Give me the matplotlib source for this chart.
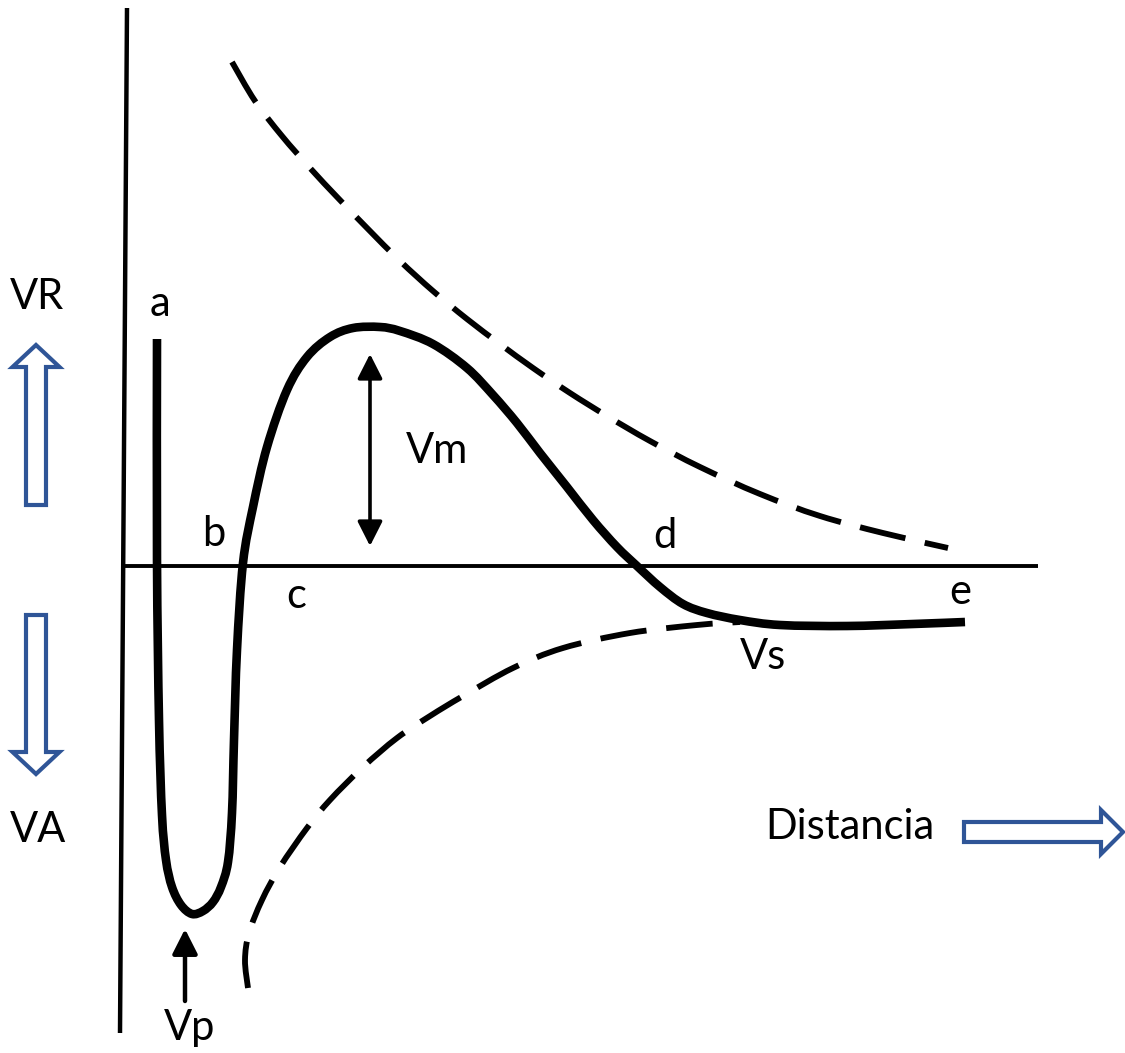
import matplotlib
matplotlib.use("Agg")
import numpy as np
import matplotlib.pyplot as plt
from matplotlib.patches import FancyArrow, PathPatch
from matplotlib.path import Path

plt.rcParams['font.family'] = ['Lato', 'DejaVu Sans']

# --- curve points (pixel units, y downwards) ---
main_x = [157, 157, 159, 162, 166, 172, 181, 192, 203, 213, 221, 228, 232, 234, 237, 243, 253,
          267, 287, 307, 330, 353, 380, 400, 433, 467, 493, 517, 540, 567, 593, 617, 637, 660,
          683, 707, 740, 780, 847, 913, 965]
main_y = [339, 560, 720, 815, 860, 887, 905, 914, 911, 902, 887, 862, 813, 740, 650, 563, 507,
          447, 390, 357, 337, 328, 327, 331, 344, 368, 395, 423, 453, 487, 520, 547, 566, 587,
          604, 613, 620, 625, 626, 624, 622]

rep_x = [232, 255, 282, 310, 338, 368, 400, 433, 467, 500, 533, 570, 607, 650, 700, 760, 820,
         883, 948]
rep_y = [62, 101, 136, 168, 198, 229, 261, 291, 319, 344, 368, 393, 416, 441, 467, 494, 516,
         533, 548]

att_x = [248, 245, 249, 262, 280, 307, 330, 363, 397, 430, 463, 513, 563, 630, 697, 740]
att_y = [988, 960, 933, 900, 867, 828, 800, 767, 738, 716, 696, 668, 648, 633, 625, 622]

# axes lines
yaxis_x = [127, 120]
yaxis_y = [8, 1033]
xaxis_x = [122, 1038]
xaxis_y = [566, 566]

# labels: (text, x, y)
labels = [("VR", 37, 297), ("VA", 38, 830), ("a", 160, 304), ("b", 214, 534),
          ("c", 296, 596), ("d", 665, 536), ("e", 960, 592), ("Vm", 437, 451),
          ("Vs", 763, 657), ("Vp", 190, 1028), ("Distancia", 850, 827)]

blue = "#2F5597"


def smooth_path(xs, ys):
    # Catmull-Rom through the read points, drawn as cubic Bezier segments
    p = np.column_stack([xs, ys]).astype(float)
    p = np.vstack([p[0], p, p[-1]])
    verts = [p[1]]
    codes = [Path.MOVETO]
    for i in range(1, len(p) - 2):
        c1 = p[i] + (p[i + 1] - p[i - 1]) / 6
        c2 = p[i + 1] - (p[i + 2] - p[i]) / 6
        verts += [c1, c2, p[i + 1]]
        codes += [Path.CURVE4] * 3
    return Path(verts, codes)


fig = plt.figure(figsize=(11.25, 10.53), dpi=100)
ax = fig.add_axes([0, 0, 1, 1])
ax.set_xlim(0, 1125)
ax.set_ylim(1053, 0)
ax.axis("off")

ax.plot(yaxis_x, yaxis_y, color="black", lw=3.2, solid_capstyle="butt")
ax.plot(xaxis_x, xaxis_y, color="black", lw=2.8, solid_capstyle="butt")

ax.add_patch(PathPatch(smooth_path(main_x, main_y), fill=False, ec="black", lw=6.2,
                       capstyle="butt", joinstyle="round"))
ax.add_patch(PathPatch(smooth_path(rep_x, rep_y), fill=False, ec="black", lw=4.2,
                       linestyle=(0, (8, 3.4)), capstyle="butt"))
ax.add_patch(PathPatch(smooth_path(att_x, att_y), fill=False, ec="black", lw=4.2,
                       linestyle=(0, (8, 3.4)), capstyle="butt"))

# Vm double arrow and Vp arrow
ax.annotate("", xy=(370, 354), xytext=(370, 546),
            arrowprops=dict(arrowstyle="<|-|>,head_length=0.75,head_width=0.38",
                            mutation_scale=20, lw=2.6, color="black",
                            shrinkA=0, shrinkB=0))
ax.annotate("", xy=(185, 929), xytext=(185, 1001),
            arrowprops=dict(arrowstyle="-|>,head_length=0.75,head_width=0.38",
                            mutation_scale=20, lw=3.2, color="black",
                            shrinkA=0, shrinkB=0))

# hollow blue arrows
ax.add_patch(FancyArrow(36, 505, 0, -160, width=20, head_width=47, head_length=22,
                        length_includes_head=True, fc="white", ec=blue, lw=3))
ax.add_patch(FancyArrow(36, 615, 0, 159, width=20, head_width=47, head_length=22,
                        length_includes_head=True, fc="white", ec=blue, lw=3))
ax.add_patch(FancyArrow(964, 832, 159, 0, width=20, head_width=44, head_length=22,
                        length_includes_head=True, fc="white", ec=blue, lw=3))

for txt, x, y in labels:
    ax.text(x, y, txt, fontsize=30, ha="center", va="center", color="black")

fig.savefig("out.png", dpi=100, facecolor="white")
